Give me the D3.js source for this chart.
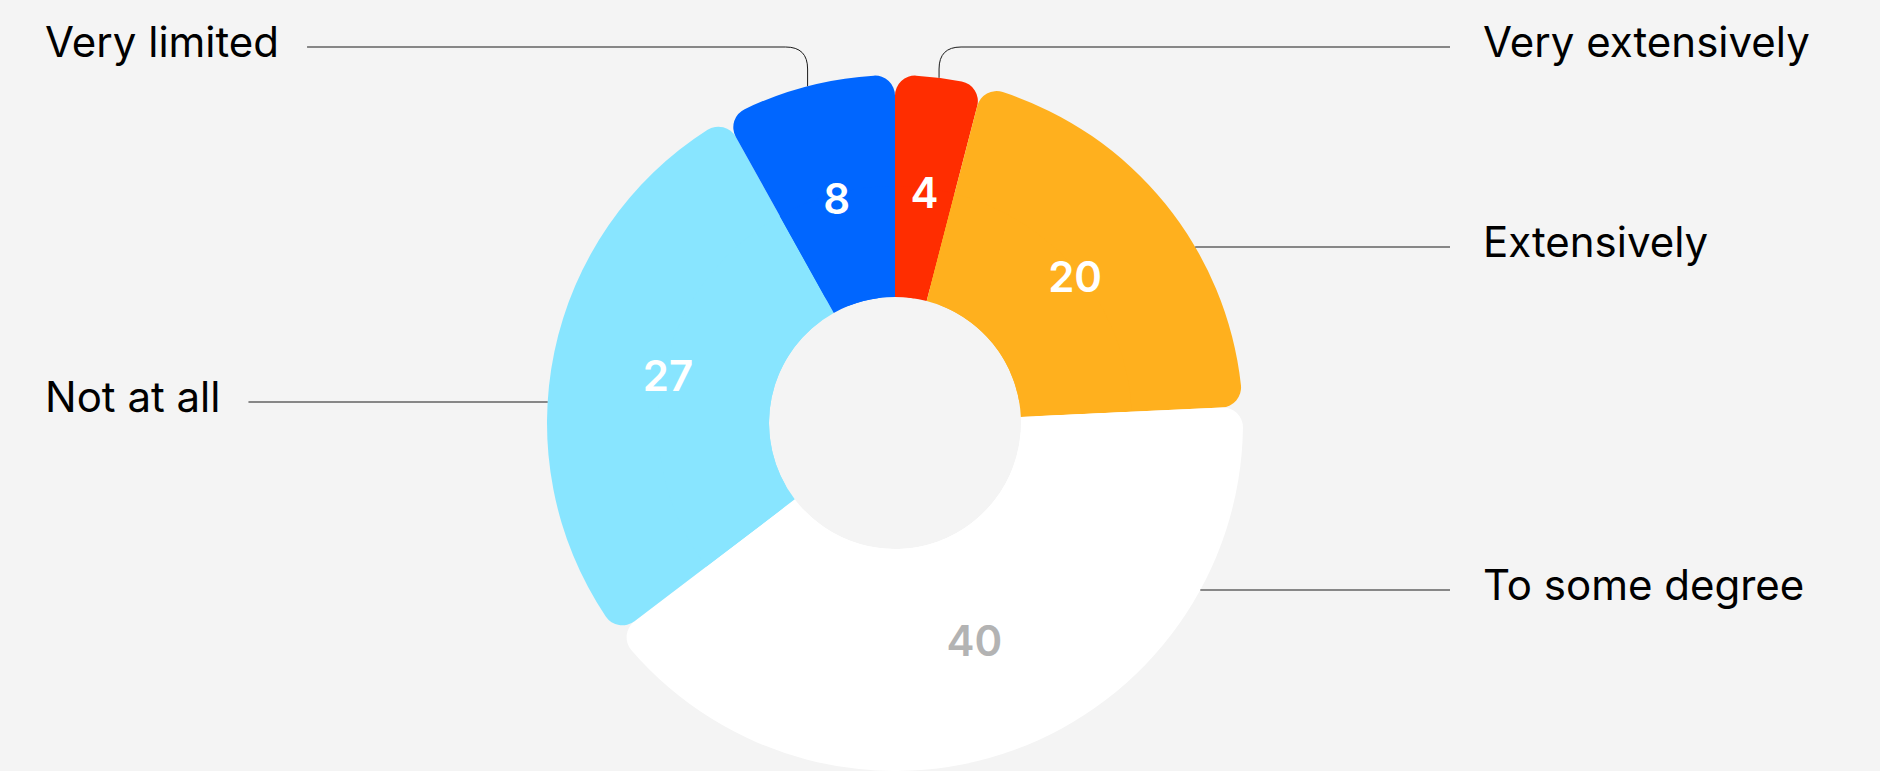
<!DOCTYPE html>
<html>
<head>
<meta charset="utf-8">
<script src="https://cdn.jsdelivr.net/npm/d3@7"></script>
<style>
  html, body { margin: 0; padding: 0; background: #f4f4f4; }
  svg { display: block; }
  text { font-family: Inter, "Noto Sans", sans-serif; }
</style>
</head>
<body>
<svg id="chart" width="1880" height="771"></svg>
<script>
// Survey answers, in drawing order (clockwise from 12 o'clock)
const categories = ["Very extensively", "Extensively", "To some degree", "Not at all", "Very limited"];
const values = [4, 20, 40, 27, 8];
const sliceColors = ["#ff2d00", "#ffb01e", "#ffffff", "#88e5ff", "#0066ff"];
const valueColors = ["#ffffff", "#ffffff", "#b3b3b3", "#ffffff", "#ffffff"];

// Leader / label layout per category
const labelLayout = {
  "Very extensively": { side: "right", kind: "elbow", y: 47 },
  "Extensively":      { side: "right", kind: "flat",  y: 247 },
  "To some degree":   { side: "right", kind: "flat",  y: 590 },
  "Not at all":       { side: "left",  kind: "flat",  y: 402 },
  "Very limited":     { side: "left",  kind: "elbow", y: 47 }
};

const W = 1880, H = 771;
const cx = 895, cy = 423;
const rInner = 126, rOuter = 348, corner = 20;
const leftTextX = 45, rightTextX = 1483, rightLineEnd = 1450;
const fontSize = 42;

const svg = d3.select("#chart");
svg.append("rect").attr("width", W).attr("height", H).attr("fill", "#f4f4f4");

const data = categories.map((c, i) => ({ category: c, value: values[i], color: sliceColors[i], labelColor: valueColors[i] }));

const pie = d3.pie().value(d => d.value).sort(null).startAngle(0).endAngle(2 * Math.PI);
const arcs = pie(data);

// rounded outer corners; an un-rounded inner band keeps the hole edge sharp
const arcRounded = d3.arc().innerRadius(rInner).outerRadius(rOuter).cornerRadius(corner);
const arcInnerBand = d3.arc().innerRadius(rInner).outerRadius((rInner + rOuter) / 2);

const g = svg.append("g").attr("transform", `translate(${cx},${cy})`);

const slice = g.selectAll("g.slice").data(arcs).join("g").attr("class", "slice");
slice.append("path").attr("d", arcRounded).attr("fill", d => d.data.color);
slice.append("path").attr("d", arcInnerBand).attr("fill", d => d.data.color);

// value labels at the slice's mid angle
const labelR = 232;
g.selectAll("text.val").data(arcs).join("text")
  .attr("class", "val")
  .attr("x", d => labelR * Math.sin((d.startAngle + d.endAngle) / 2))
  .attr("y", d => -labelR * Math.cos((d.startAngle + d.endAngle) / 2))
  .attr("text-anchor", "middle")
  .attr("dy", "0.36em")
  .attr("font-size", fontSize)
  .attr("font-weight", 600)
  .attr("fill", d => d.data.labelColor)
  .text(d => d.data.value);

// category labels with leader lines
const leaders = svg.append("g");
arcs.forEach(d => {
  const lay = labelLayout[d.data.category];
  const left = lay.side === "left";
  const t = leaders.append("text")
    .attr("x", left ? leftTextX : rightTextX)
    .attr("y", lay.y + 9.5)
    .attr("text-anchor", "start")
    .attr("font-size", fontSize)
    .attr("font-weight", 400)
    .attr("fill", "#000")
    .text(d.data.category);
  const tw = t.node().getComputedTextLength();
  const lineEnd = left ? leftTextX + tw + 28 : rightLineEnd;

  let path;
  if (lay.kind === "elbow") {
    const a = (d.startAngle + d.endAngle) / 2;
    const px = cx + rOuter * Math.sin(a);
    const py = cy - rOuter * Math.cos(a);
    const rr = 22;
    const dir = left ? -1 : 1;
    path = `M${px},${py} V${lay.y + rr} Q${px},${lay.y} ${px + dir * rr},${lay.y} H${lineEnd}`;
  } else {
    const dy = lay.y - cy;
    const dx = Math.sqrt(rOuter * rOuter - dy * dy);
    const px = left ? cx - dx : cx + dx;
    path = `M${px},${lay.y} H${lineEnd}`;
  }
  leaders.append("path")
    .attr("d", path)
    .attr("fill", "none")
    .attr("stroke", "#1a1a1a")
    .attr("stroke-width", 1);
});
</script>
</body>
</html>
